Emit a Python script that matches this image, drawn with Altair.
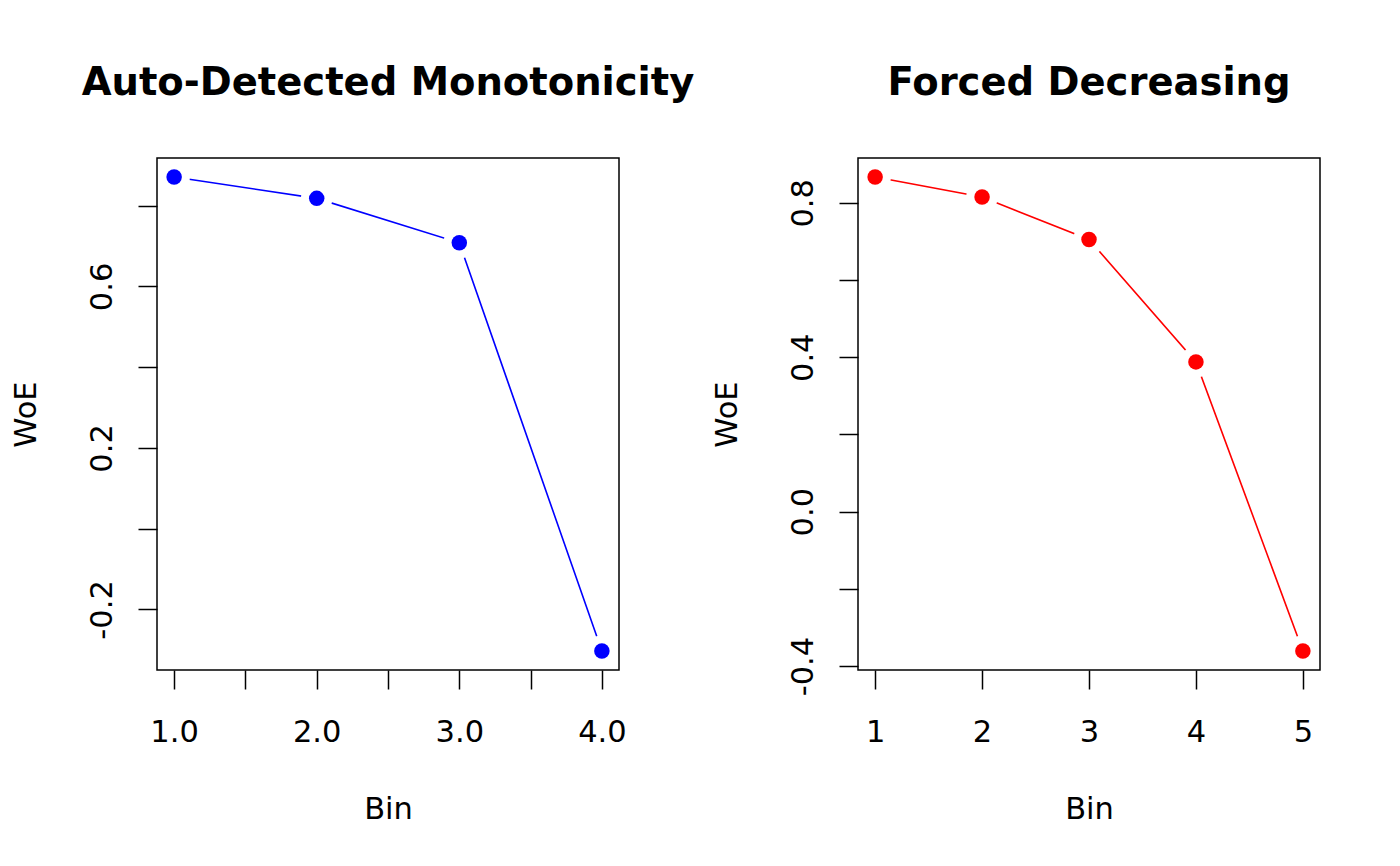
import altair as alt
import pandas as pd

# ---- data ----
left_bins = [1, 2, 3, 4]
left_woe = [0.871, 0.818, 0.708, -0.303]
right_bins = [1, 2, 3, 4, 5]
right_woe = [0.867, 0.815, 0.705, 0.388, -0.361]

left_title = "Auto-Detected Monotonicity"
right_title = "Forced Decreasing"
x_title = "Bin"
y_title = "WoE"

left_xticks = [1.0, 1.5, 2.0, 2.5, 3.0, 3.5, 4.0]
left_xlabels = ["1.0", "", "2.0", "", "3.0", "", "4.0"]
left_yticks = [-0.2, 0.0, 0.2, 0.4, 0.6, 0.8]
left_ylabels = ["-0.2", "", "0.2", "", "0.6", ""]
right_xticks = [1, 2, 3, 4, 5]
right_xlabels = ["1", "2", "3", "4", "5"]
right_yticks = [-0.4, -0.2, 0.0, 0.2, 0.4, 0.6, 0.8]
right_ylabels = ["-0.4", "", "0.0", "", "0.4", "", "0.8"]

FONT = "DejaVu Sans"
LABEL_SIZE = 30.5
TITLE_SIZE = 38.5
W, H = 462, 512


def rdomain(vals):
    lo, hi = min(vals), max(vals)
    d = 0.04 * (hi - lo)
    return [lo - d, hi + d]


def label_expr(vals, labels):
    expr = "''"
    for v, s in reversed(list(zip(vals, labels))):
        expr = f"abs(datum.value - ({v})) < 1e-6 ? '{s}' : " + expr
    return expr


def panel(bins, woe, color, title, xt, xl, yt, yl):
    df = pd.DataFrame({"bin": bins, "woe": woe})
    xaxis = alt.Axis(
        values=xt, labelExpr=label_expr(xt, xl), title=x_title,
        domain=False, grid=False, ticks=True, tickSize=19, tickWidth=1.5,
        tickColor="black", labelFont=FONT, labelFontSize=LABEL_SIZE,
        labelColor="black", labelBaseline="alphabetic", labelPadding=52,
        labelOverlap=False, labelFlush=False, labelBound=False,
        minExtent=90, maxExtent=90, titlePadding=58,
        titleFont=FONT, titleFontSize=LABEL_SIZE, titleFontWeight="normal",
        titleColor="black", titleBaseline="alphabetic",
    )
    yaxis = alt.Axis(
        values=yt, labelExpr=label_expr(yt, yl), title=y_title,
        domain=False, grid=False, ticks=True, tickSize=19, tickWidth=1.5,
        tickColor="black", labelFont=FONT, labelFontSize=LABEL_SIZE,
        labelColor="black", labelAngle=270, labelAlign="center",
        labelBaseline="alphabetic", labelPadding=27,
        labelOverlap=False, labelFlush=False, labelBound=False,
        minExtent=80, maxExtent=80, titlePadding=42,
        titleFont=FONT, titleFontSize=LABEL_SIZE, titleFontWeight="normal",
        titleColor="black", titleBaseline="alphabetic",
    )
    base = alt.Chart(df).encode(
        x=alt.X("bin:Q", scale=alt.Scale(domain=rdomain(bins), nice=False, zero=False), axis=xaxis),
        y=alt.Y("woe:Q", scale=alt.Scale(domain=rdomain(woe), nice=False, zero=False), axis=yaxis),
    )
    line = base.mark_line(color=color, strokeWidth=1.6)
    halo = base.mark_circle(color="white", size=1000, opacity=1)
    pts = base.mark_circle(color=color, size=240, opacity=1)
    frame = alt.Chart(pd.DataFrame({"f": [0]})).mark_rect(
        fillOpacity=0, stroke="black", strokeWidth=1.5
    ).encode(x=alt.value(0), x2=alt.value("width"), y=alt.value(0), y2=alt.value("height"))
    return alt.layer(line, halo, pts, frame).properties(
        width=W, height=H,
        title=alt.TitleParams(
            text=title, font=FONT, fontSize=TITLE_SIZE, fontWeight="bold",
            color="black", baseline="alphabetic", offset=24, anchor="middle",
        ),
    )


left = panel(left_bins, left_woe, "#0000FF", left_title,
             left_xticks, left_xlabels, left_yticks, left_ylabels)
right = panel(right_bins, right_woe, "#FF0000", right_title,
              right_xticks, right_xlabels, right_yticks, right_ylabels)

chart = alt.hconcat(left, right, spacing=17).properties(
    padding={"left": 3, "top": 55, "right": 5, "bottom": 5},
    background="white",
).configure_view(stroke=None)

chart.save("out.html", embed_options={"renderer": "svg", "actions": False})
